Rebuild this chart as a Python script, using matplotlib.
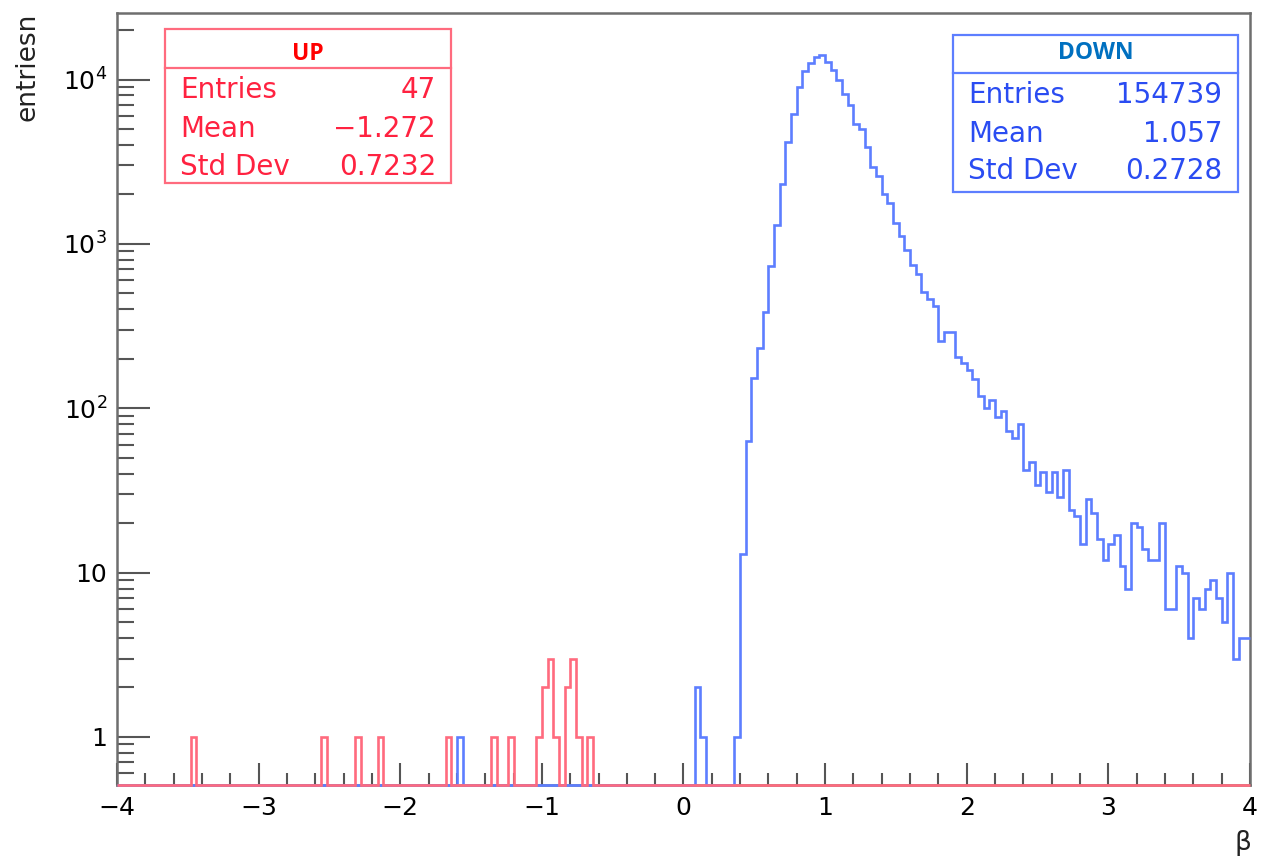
import numpy as np
import matplotlib
matplotlib.use("Agg")
import matplotlib.pyplot as plt
from matplotlib.patches import Rectangle
from matplotlib.lines import Line2D
from matplotlib.ticker import LogLocator, NullFormatter

plt.rcParams['font.family'] = ['DejaVu Sans']

# histogram binning: 200 bins from -4 to 4
n_bins = 200
x_lo, x_hi = -4.0, 4.0

# DOWN: contiguous block of bins starting at beta = 0.36, plus a few isolated bins
down_start = 0.36
down_counts = [1, 13, 63, 152, 234, 386, 731, 1306, 2300, 4170,
               6200, 9020, 11240, 12520, 13750, 14060, 12820, 11400, 9910, 8220,
               6970, 5390, 5020, 3890, 2940, 2590, 2000, 1778, 1343, 1124,
               923, 748, 656, 507, 462, 417, 257, 289, 289, 204,
               188, 172, 150, 119, 101, 113, 88, 96, 73, 66,
               80, 42, 47, 34, 41, 31, 41, 29, 42, 24,
               22, 15, 28, 23, 16, 12, 15, 17, 11, 8,
               20, 19, 14, 12, 12, 20, 6, 6, 11, 10,
               4, 7, 6, 8, 9, 7, 5, 10, 3, 4,
               4]
down_extra_x = [-1.60, 0.08, 0.12]
down_extra_n = [1, 2, 1]

# UP: lower bin edges and counts
up_x = [-3.48, -2.56, -2.32, -2.16, -1.68, -1.36, -1.24,
        -1.04, -1.00, -0.96, -0.92, -0.84, -0.80, -0.76, -0.68]
up_n = [1, 1, 1, 1, 1, 1, 1,
        1, 2, 3, 1, 2, 3, 1, 1]

stat_names = ["Entries", "Mean", "Std Dev"]
up_stats = ["47", "\u22121.272", "0.7232"]
down_stats = ["154739", "1.057", "0.2728"]

x_ticks = [-4, -3, -2, -1, 0, 1, 2, 3, 4]
y_ticks = [1, 10, 100, 1000, 10000]
y_labels = ["1", "10", "$10^{2}$", "$10^{3}$", "$10^{4}$"]

RED_LINE = '#ff6b7e'
BLUE_LINE = '#5d7eff'
RED_TXT = '#ff2240'
BLUE_TXT = '#2a4cf2'
FRAME = '#6e6e6e'

W, H = 1262, 857
edges = np.linspace(x_lo, x_hi, n_bins + 1)
width = (x_hi - x_lo) / n_bins


def bin_index(x):
    return np.rint((np.asarray(x) - x_lo) / width).astype(int)


down = np.zeros(n_bins)
s = bin_index(down_start)
down[s:s + len(down_counts)] = down_counts
down[bin_index(down_extra_x)] = down_extra_n

up = np.zeros(n_bins)
up[bin_index(up_x)] = up_n

ymin, ymax = 0.51, 25400

fig = plt.figure(figsize=(W / 100, H / 100), dpi=100)
ax = fig.add_axes([117 / W, 1 - 785 / H, (1250 - 117) / W, (785 - 13) / H])
ax.set_yscale('log')
ax.set_xlim(x_lo, x_hi)
ax.set_ylim(ymin, ymax)

# empty bins sit on the frame bottom like in ROOT
ax.stairs(np.where(down > 0, down, ymin), edges, baseline=None, color=BLUE_LINE,
          lw=1.9, zorder=3, clip_on=False)
ax.stairs(np.where(up > 0, up, ymin), edges, baseline=None, color=RED_LINE,
          lw=1.9, zorder=4, clip_on=False)

for side in ['left', 'right', 'top', 'bottom']:
    ax.spines[side].set_color(FRAME)
    ax.spines[side].set_linewidth(1.8)

ax.set_xticks(x_ticks, [str(t).replace('-', '\u2212') for t in x_ticks])
ax.set_xticks(np.arange(-4, 4.01, 0.2), minor=True)
ax.set_yticks(y_ticks, y_labels)
ax.yaxis.set_minor_locator(LogLocator(base=10, subs=np.arange(2, 10)))
ax.yaxis.set_minor_formatter(NullFormatter())

ax.tick_params(axis='x', which='major', direction='in', length=15.5, width=1.5,
               color='#555555', labelsize=18, pad=8, top=False)
ax.tick_params(axis='x', which='minor', direction='in', length=8.5, width=1.5,
               color='#555555', top=False)
ax.tick_params(axis='y', which='major', direction='in', length=24, width=1.5,
               color='#555555', labelsize=18, pad=7, right=False)
ax.tick_params(axis='y', which='minor', direction='in', length=12, width=1.5,
               color='#555555', right=False)

fig.text(27 / W, 1 - 13 / H, "entriesn", rotation=90, ha='center', va='top',
         fontsize=19, color='#222222')
fig.text(1251 / W, 1 - 843 / H, "\u03b2", ha='right', va='center',
         fontsize=19, color='#222222')


def stat_box(x0, x1, y0, y1, ysep, title, tcolor, tbase, rows, lcolor, txt,
             lx, rx, bases):
    fig.add_artist(Rectangle((x0 / W, 1 - y1 / H), (x1 - x0) / W, (y1 - y0) / H,
                             transform=fig.transFigure, facecolor='white',
                             edgecolor=lcolor, lw=1.6, zorder=5))
    fig.add_artist(Line2D([x0 / W, x1 / W], [1 - ysep / H, 1 - ysep / H],
                          transform=fig.transFigure, color=lcolor, lw=1.6, zorder=6))
    fig.text((x0 + x1) / 2 / W, 1 - tbase / H, title, ha='center', va='baseline',
             fontsize=16.5, fontweight='bold', family=['Open Sans', 'DejaVu Sans'],
             color=tcolor, zorder=7)
    for name, val, b in zip(stat_names, rows, bases):
        fig.text(lx / W, 1 - b / H, name, ha='left', va='baseline',
                 fontsize=20, color=txt, zorder=7)
        fig.text(rx / W, 1 - b / H, val, ha='right', va='baseline',
                 fontsize=20, color=txt, zorder=7)


stat_box(165, 451, 29, 183, 68, "UP", '#ff0000', 60, up_stats, RED_LINE, RED_TXT,
         180, 436, [98, 137, 175])
stat_box(953, 1238, 35, 192, 73, "DOWN", '#0070c0', 59, down_stats, BLUE_LINE,
         BLUE_TXT, 968, 1222, [103, 142, 179])

fig.savefig("out.png", dpi=100)
